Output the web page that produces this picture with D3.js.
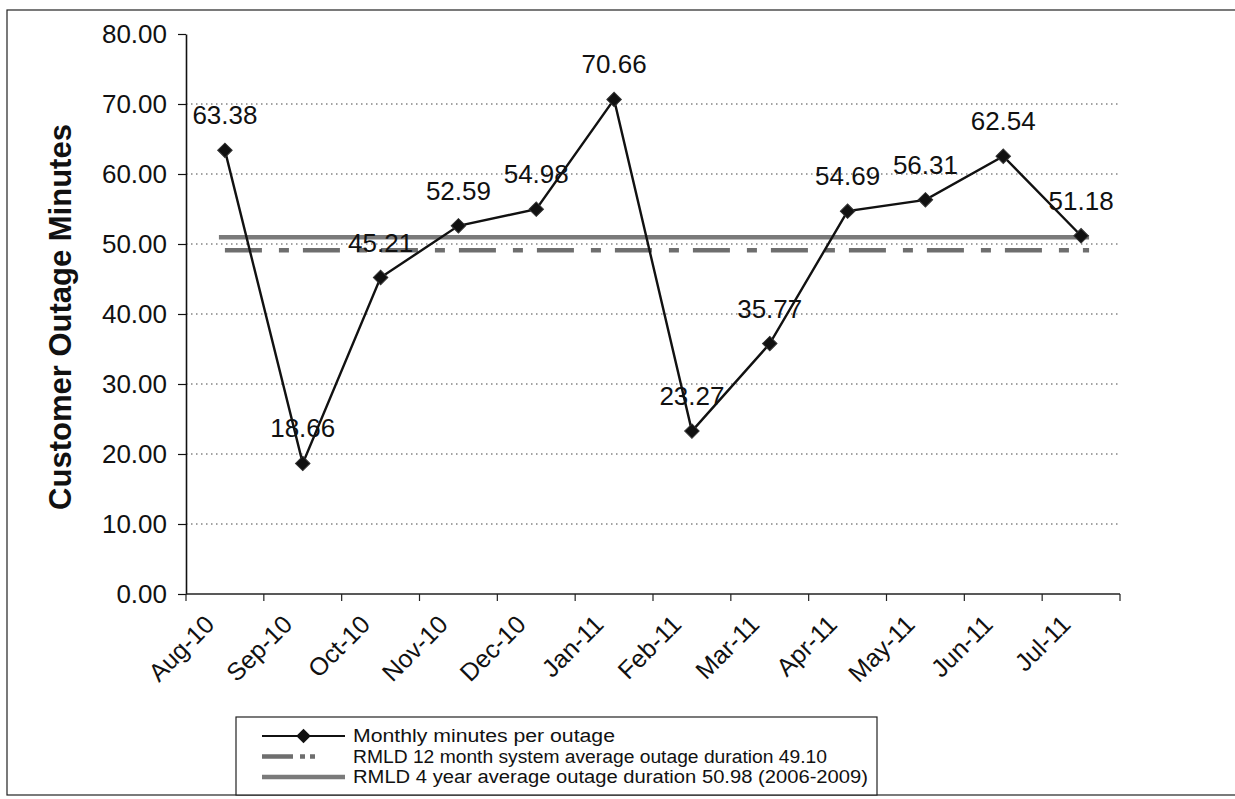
<!DOCTYPE html>
<html>
<head>
<meta charset="utf-8">
<script src="https://cdn.jsdelivr.net/npm/d3@7"></script>
<style>
  html, body { margin: 0; padding: 0; background: #fff; }
  svg { display: block; font-family: "Liberation Sans", Arial, sans-serif; }
</style>
</head>
<body>
<svg id="chart" width="1235" height="799"></svg>
<script>
// ---- data ----
const categories = ["Aug-10","Sep-10","Oct-10","Nov-10","Dec-10","Jan-11","Feb-11","Mar-11","Apr-11","May-11","Jun-11","Jul-11"];
const monthlyMinutes = [63.38, 18.66, 45.21, 52.59, 54.98, 70.66, 23.27, 35.77, 54.69, 56.31, 62.54, 51.18];
const avg12Month = 49.10;
const avg4Year = 50.98;
const yTicks = [0, 10, 20, 30, 40, 50, 60, 70, 80];
const yTitle = "Customer Outage Minutes";
const legendLabels = [
  "Monthly minutes per outage",
  "RMLD 12 month system average outage duration 49.10",
  "RMLD 4 year average outage duration 50.98 (2006-2009)"
];
const legendWidths = [262, 474, 515];

// ---- layout ----
const svg = d3.select("#chart");
const plot = { left: 186, right: 1120, top: 34, bottom: 594 };

const x = d3.scaleBand().domain(categories).range([plot.left, plot.right]).padding(0);
const cx = c => x(c) + x.bandwidth() / 2;
const y = d3.scaleLinear().domain([0, 80]).range([plot.bottom, plot.top]);

// outer frame
svg.append("rect").attr("x", 7).attr("y", 10).attr("width", 1250).attr("height", 785)
  .attr("fill", "none").attr("stroke", "#222").attr("stroke-width", 1.2);

// gridlines
svg.append("g").selectAll("line")
  .data(yTicks.filter(d => d > 0 && d < 80))
  .join("line")
  .attr("x1", plot.left).attr("x2", plot.right)
  .attr("y1", d => y(d)).attr("y2", d => y(d))
  .attr("stroke", "#444").attr("stroke-width", 1)
  .attr("stroke-dasharray", "1.5,3.5");

// y axis
const yAxis = svg.append("g")
  .attr("transform", `translate(${plot.left},0)`)
  .call(d3.axisLeft(y).tickValues(yTicks).tickFormat(d3.format(".2f")).tickSize(8).tickSizeOuter(0).tickPadding(11));
yAxis.select(".domain").attr("stroke", "#111").attr("stroke-width", 1.6);
yAxis.selectAll(".tick line").attr("stroke", "#111").attr("stroke-width", 1.2);
yAxis.selectAll(".tick text").attr("font-size", 26).attr("fill", "#111")
  .attr("font-family", "Liberation Sans, Arial, sans-serif");

// x axis line + boundary ticks
const boundaries = categories.map(c => x(c)).concat([plot.right]);
svg.append("line").attr("x1", plot.left).attr("x2", plot.right)
  .attr("y1", plot.bottom).attr("y2", plot.bottom)
  .attr("stroke", "#222").attr("stroke-width", 1.4);
svg.append("g").selectAll("line").data(boundaries).join("line")
  .attr("x1", d => d).attr("x2", d => d)
  .attr("y1", plot.bottom).attr("y2", plot.bottom + 7)
  .attr("stroke", "#222").attr("stroke-width", 1.2);

// x labels rotated
svg.append("g").selectAll("text").data(categories).join("text")
  .attr("transform", d => `translate(${cx(d) - 9},${plot.bottom + 32}) rotate(-45)`)
  .attr("text-anchor", "end")
  .attr("font-size", 25).attr("fill", "#111")
  .text(d => d);

// y title
svg.append("text")
  .attr("transform", `translate(71,${(plot.top + plot.bottom) / 2 + 3}) rotate(-90)`)
  .attr("text-anchor", "middle")
  .attr("font-size", 31).attr("font-weight", "bold").attr("fill", "#111")
  .text(yTitle);

// average lines
const xFirst = cx(categories[0]);
const xLast = cx(categories[categories.length - 1]);
svg.append("line")
  .attr("x1", xFirst - 6).attr("x2", xLast + 8)
  .attr("y1", y(avg4Year)).attr("y2", y(avg4Year))
  .attr("stroke", "#7a7a7a").attr("stroke-width", 4.5);
svg.append("line")
  .attr("x1", xFirst).attr("x2", xLast + 8)
  .attr("y1", y(avg12Month)).attr("y2", y(avg12Month))
  .attr("stroke", "#6e6e6e").attr("stroke-width", 4.5)
  .attr("stroke-dasharray", "37,17,10,14");

// data line
const line = d3.line().x((d, i) => cx(categories[i])).y(d => y(d));
svg.append("path").datum(monthlyMinutes)
  .attr("d", line).attr("fill", "none")
  .attr("stroke", "#111").attr("stroke-width", 2.4);

// markers
const diamond = d3.symbol().type(d3.symbolSquare).size(105);
svg.append("g").selectAll("path").data(monthlyMinutes).join("path")
  .attr("d", diamond)
  .attr("transform", (d, i) => `translate(${cx(categories[i])},${y(d)}) rotate(45)`)
  .attr("fill", "#111").attr("stroke", "#333").attr("stroke-width", 1);

// data labels
svg.append("g").selectAll("text").data(monthlyMinutes).join("text")
  .attr("x", (d, i) => cx(categories[i]))
  .attr("y", d => y(d) - 26)
  .attr("text-anchor", "middle")
  .attr("font-size", 26).attr("fill", "#111")
  .text(d => d.toFixed(2));

// legend
const lg = svg.append("g");
lg.append("rect").attr("x", 236).attr("y", 717).attr("width", 641).attr("height", 78)
  .attr("fill", "#fff").attr("stroke", "#222").attr("stroke-width", 1.2);
const baseY = [742, 762.5, 783];
const rowY = baseY.map(b => b - 6);
const symX0 = 262, symX1 = 345;
// row 1
lg.append("line").attr("x1", symX0).attr("x2", symX1).attr("y1", rowY[0]).attr("y2", rowY[0])
  .attr("stroke", "#111").attr("stroke-width", 2);
lg.append("path").attr("d", diamond)
  .attr("transform", `translate(${(symX0 + symX1) / 2},${rowY[0]}) rotate(45)`)
  .attr("fill", "#111");
// row 2
lg.append("line").attr("x1", symX0).attr("x2", symX1 - 28).attr("y1", rowY[1]).attr("y2", rowY[1])
  .attr("stroke", "#6e6e6e").attr("stroke-width", 4.5)
  .attr("stroke-dasharray", "31,7,5,5,5,50");
// row 3
lg.append("line").attr("x1", symX0).attr("x2", symX1).attr("y1", rowY[2]).attr("y2", rowY[2])
  .attr("stroke", "#7a7a7a").attr("stroke-width", 4.5);
lg.selectAll("text.leg").data(legendLabels).join("text")
  .attr("class", "leg")
  .attr("x", 353)
  .attr("y", (d, i) => baseY[i])
  .attr("font-size", 18).attr("fill", "#111")
  .attr("textLength", (d, i) => legendWidths[i])
  .attr("lengthAdjust", "spacingAndGlyphs")
  .text(d => d);
</script>
</body>
</html>
